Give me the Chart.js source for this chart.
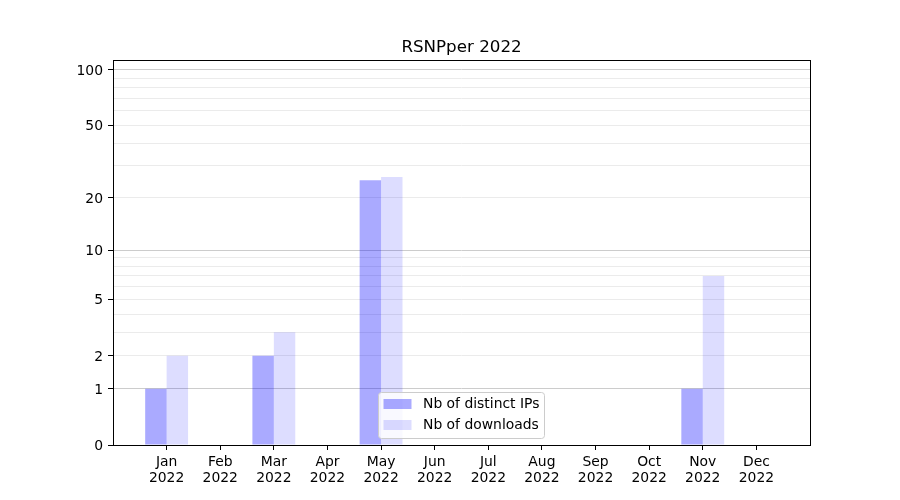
<!DOCTYPE html>
<html>
<head>
<meta charset="utf-8">
<script src="https://cdn.jsdelivr.net/npm/chart.js@4.4.1/dist/chart.umd.min.js"></script>
<style>
  html, body { margin: 0; padding: 0; background: #fff; }
  #wrap { width: 900px; height: 500px; position: relative; }
</style>
</head>
<body>
<div id="wrap"><canvas id="c" width="900" height="500"></canvas></div>
<script>
// ---- data ----
const chartTitle = 'RSNPper 2022';
const months = ['Jan','Feb','Mar','Apr','May','Jun','Jul','Aug','Sep','Oct','Nov','Dec'];
const year = '2022';
const distinctIPs = [1, 0, 2, 0, 25, 0, 0, 0, 0, 0, 1, 0];
const downloads   = [2, 0, 3, 0, 26, 0, 0, 0, 0, 0, 7, 0];
const yTickValues = [0,1,2,3,4,5,6,7,8,9,10,20,30,40,50,60,70,80,90,100];
const yTickLabels = [0,1,2,5,10,20,50,100];
const yMajorGrid  = [1,10,100];
const yMax = 113;

const FONT = 'DejaVu Sans';

// custom log(1+x) scale
class Log1pScale extends Chart.LinearScale {
  buildTicks() {
    return yTickValues.map(v => ({ value: v }));
  }
  _lv(v) { return Math.log10(1 + v); }
  getPixelForValue(value) {
    const a = this._lv(this.min), b = this._lv(this.max);
    return this.getPixelForDecimal((this._lv(value) - a) / (b - a));
  }
  getValueForPixel(pixel) {
    const a = this._lv(this.min), b = this._lv(this.max);
    const d = this.getDecimalForPixel(pixel);
    return Math.pow(10, a + d * (b - a)) - 1;
  }
}
Log1pScale.id = 'log1p';
Log1pScale.defaults = Chart.LinearScale.defaults;
Chart.register(Log1pScale);

// padded category axis (one empty slot each side, like the reference's margins)
const labels = [''].concat(months.map(m => [m, year])).concat(['']);
const pad = arr => [null].concat(arr).concat([null]);

const frameTitleLegend = {
  id: 'frameTitleLegend',
  afterDatasetsDraw(chart) {
    const {ctx, chartArea: a} = chart;
    ctx.save();
    ctx.strokeStyle = '#000';
    ctx.lineWidth = 1;
    ctx.strokeRect(Math.round(a.left) + 0.5, Math.round(a.top) + 0.5,
                   Math.round(a.right) - Math.round(a.left), Math.round(a.bottom) - Math.round(a.top));
    ctx.restore();
  },
  afterDraw(chart) {
    const {ctx, chartArea: a} = chart;
    ctx.save();
    // title centred over plot area
    ctx.font = '16.7px "' + FONT + '"';
    ctx.fillStyle = '#000';
    ctx.textAlign = 'center';
    ctx.textBaseline = 'middle';
    ctx.fillText(chartTitle, (a.left + a.right) / 2, 47.5);
    // legend
    const x = 378.5, y = 392.5, w = 166, h = 46, r = 3;
    ctx.beginPath();
    ctx.moveTo(x + r, y);
    ctx.arcTo(x + w, y, x + w, y + h, r);
    ctx.arcTo(x + w, y + h, x, y + h, r);
    ctx.arcTo(x, y + h, x, y, r);
    ctx.arcTo(x, y, x + w, y, r);
    ctx.closePath();
    ctx.fillStyle = 'rgba(255,255,255,0.8)';
    ctx.fill();
    ctx.strokeStyle = '#cccccc';
    ctx.lineWidth = 1;
    ctx.stroke();
    ctx.font = '13.9px "' + FONT + '"';
    ctx.textAlign = 'left';
    ctx.textBaseline = 'middle';
    chart.data.datasets.forEach((ds, i) => {
      const ry = 399 + i * 21;
      ctx.fillStyle = ds.backgroundColor;
      ctx.fillRect(383.5, ry, 28, 10);
      ctx.fillStyle = '#000';
      ctx.fillText(ds.label, 423, ry + 5.5);
    });
    ctx.restore();
  }
};

new Chart(document.getElementById('c'), {
  type: 'bar',
  data: {
    labels: labels,
    datasets: [
      { label: 'Nb of distinct IPs', data: pad(distinctIPs), backgroundColor: 'rgba(0,0,255,0.333)', borderWidth: 0,
        categoryPercentage: 0.8, barPercentage: 1.0 },
      { label: 'Nb of downloads', data: pad(downloads), backgroundColor: 'rgba(0,0,255,0.133)', borderWidth: 0,
        categoryPercentage: 0.8, barPercentage: 1.0 }
    ]
  },
  options: {
    responsive: false,
    animation: false,
    events: [],
    layout: { padding: { left: 0, right: 90, top: 60, bottom: 0 } },
    plugins: {
      legend: { display: false },
      tooltip: { enabled: false },
      title: { display: false }
    },
    scales: {
      x: {
        type: 'category',
        offset: false,
        border: { display: false },
        grid: {
          offset: false,
          drawOnChartArea: false,
          drawTicks: true,
          tickLength: 5,
          tickWidth: 1,
          tickColor: ctx => (ctx.index === 0 || ctx.index === labels.length - 1) ? 'rgba(0,0,0,0)' : '#000'
        },
        ticks: {
          color: '#000',
          padding: 4,
          autoSkip: false,
          maxRotation: 0,
          font: { family: FONT, size: 13.9, lineHeight: 1.15 }
        },
        afterFit(s) { s.height = 55; }
      },
      y: {
        type: 'log1p',
        min: 0,
        max: yMax,
        border: { display: false },
        grid: {
          drawTicks: true,
          tickLength: 5,
          lineWidth: 1,
          color: ctx => {
            const v = ctx.tick ? ctx.tick.value : null;
            if (v === 0) return 'rgba(0,0,0,0)';
            return yMajorGrid.includes(v) ? '#cccccc' : '#ebebeb';
          },
          tickColor: ctx => (ctx.tick && yTickLabels.includes(ctx.tick.value)) ? '#000' : 'rgba(0,0,0,0)'
        },
        ticks: {
          color: '#000',
          padding: 5,
          labelOffset: 1.5,
          autoSkip: false,
          font: { family: FONT, size: 13.9 },
          callback: v => yTickLabels.includes(v) ? String(v) : ''
        },
        afterFit(s) { s.width = 113; }
      }
    }
  },
  plugins: [frameTitleLegend]
});
</script>
</body>
</html>
